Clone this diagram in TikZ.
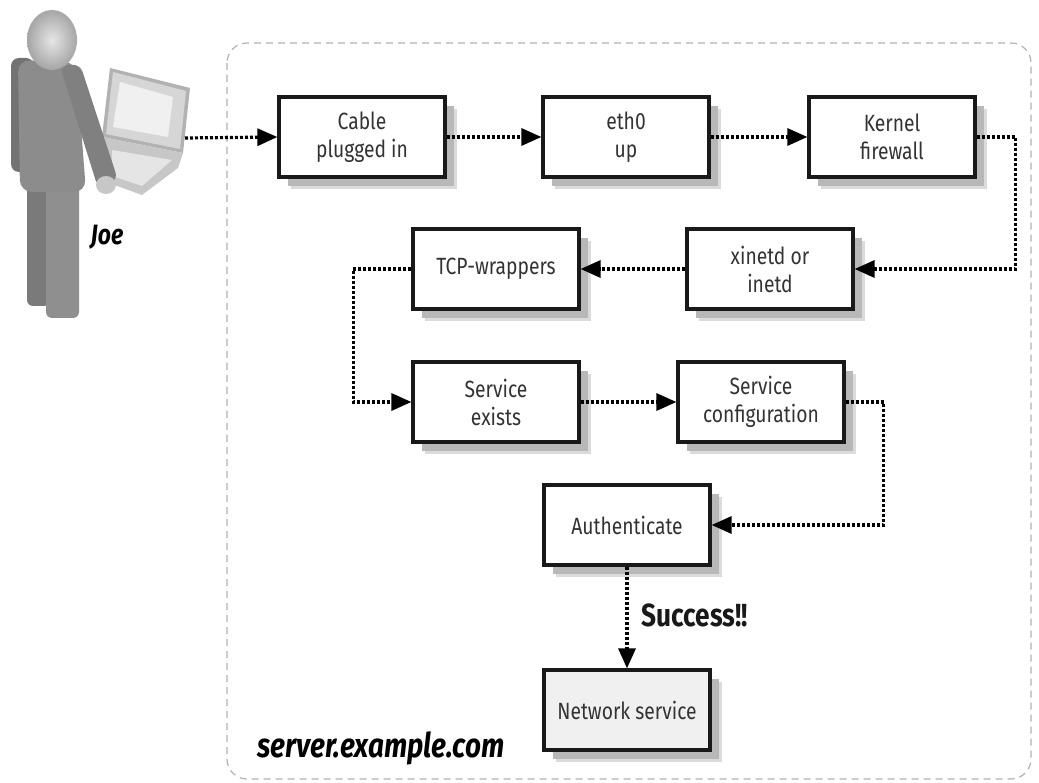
\documentclass[tikz,border=0pt]{standalone}
\usepackage{fontspec}
\setmainfont{Fira Sans}[FakeStretch=0.82]
\usetikzlibrary{arrows.meta,shadows,calc}
\begin{document}
\begin{tikzpicture}[x=1pt,y=-1pt,
  stepbox/.style={draw=black!90, line width=3.2pt, fill=white, minimum width=166pt,
    minimum height=80pt, inner sep=0pt, align=center,
    font=\fontsize{23.5}{28}\selectfont, text=black!80,
    drop shadow={shadow xshift=12pt,shadow yshift=-12pt,fill=black!14,opacity=1},
    drop shadow={shadow xshift=9pt,shadow yshift=-9pt,fill=black!28,opacity=1}},
  conn/.style={line width=3.2pt, dash pattern=on 3pt off 2pt,
    -{Triangle[length=20pt,width=17pt]}},
  container/.style={draw=black!30, line width=1.2pt, dash pattern=on 7pt off 5pt, rounded corners=20pt},
  lbl/.style={font=\fontsize{32}{32}\selectfont\bfseries, text=black!90},
  host/.style={font=\fontsize{34}{34}\selectfont\bfseries\itshape, text=black},
]
\useasboundingbox (0,0) rectangle (1039,783);
\fill[white] (0,0) rectangle (1039,783);

% server container
\draw[container] (227,43) rectangle (1031,779);

% person "Joe"
\fill[black!55, rounded corners=8pt] (11,58) rectangle (34,172);
\fill[black!52, rounded corners=6pt] (27,178) rectangle (50,306);
\fill[black!44, rounded corners=6pt] (46,182) rectangle (79,318);
\fill[black!45, rounded corners=12pt] (18,60) -- (76,62) -- (86,192) -- (20,192) -- cycle;
\shade[inner color=black!10, outer color=black!35] (52,40) ellipse (25 and 30);
% laptop
\fill[black!30] (110,68) -- (190,88) -- (183,153) -- (102,137) -- cycle;
\fill[black!16] (113,72) -- (186,91) -- (180,149) -- (106,134) -- cycle;
\fill[black!6] (120,82) -- (173,97) -- (168,137) -- (113,127) -- cycle;
\fill[black!22] (102,137) -- (183,153) -- (178,168) -- (142,195) -- (106,182) -- cycle;
\fill[black!10] (112,150) -- (172,160) -- (142,186) -- (112,176) -- cycle;
% arm and hand
\fill[black!50, rounded corners=8pt] (60,66) -- (80,64) -- (118,180) -- (98,188) -- cycle;
\fill[black!22] (106,185) ellipse (10 and 9);
\coordinate (laptop) at (185,138);
\node[font=\fontsize{28}{28}\selectfont\bfseries\itshape] (joe) at (107,237) {Joe};

% steps
\node[stepbox] (cable) at (362,137) {Cable\\plugged in};
\node[stepbox] (eth) at (626,137) {eth0\\up};
\node[stepbox] (kernel) at (892,137) {Kernel\\firewall};
\node[stepbox] (xinetd) at (770,269) {xinetd or\\inetd};
\node[stepbox] (tcp) at (496,269) {TCP-wrappers};
\node[stepbox] (exists) at (496,402) {Service\\exists};
\node[stepbox] (sconf) at (761,402) {Service\\configuration};
\node[stepbox] (auth) at (627,525) {Authenticate};
\node[stepbox, fill=black!6] (net) at (627,710) {Network service};

% connectors
\draw[conn] (laptop) -- (cable.west);
\draw[conn] (cable.east) -- (eth.west);
\draw[conn] (eth.east) -- (kernel.west);
\draw[conn] (kernel.east) -- ++(39,0) |- (xinetd.east);
\draw[conn] (xinetd.west) -- (tcp.east);
\draw[conn] (tcp.west) -- ++(-58,0) |- (exists.west);
\draw[conn] (exists.east) -- (sconf.west);
\draw[conn] (sconf.east) -- ++(38,0) |- (auth.east);
\draw[conn] (auth.south) -- (net.north);
\node[lbl, anchor=west] (success) at (638,615) {Success!!};

\node[host] (hostname) at (381,748) {server.example.com};
\end{tikzpicture}
\end{document}
